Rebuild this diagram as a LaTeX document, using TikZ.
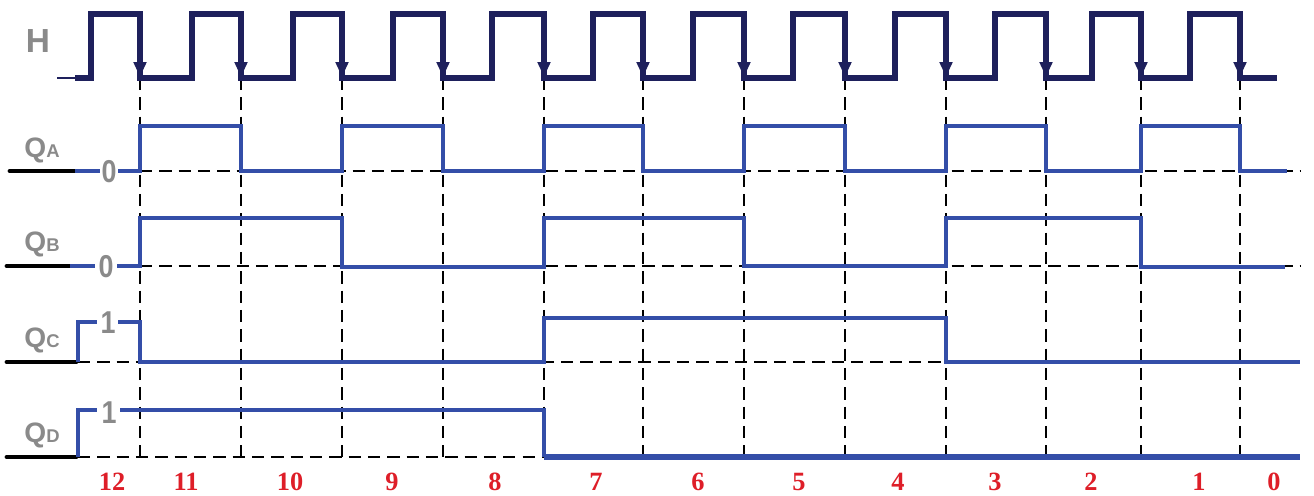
\documentclass[tikz,border=0pt]{standalone}
\usepackage{fontspec}
\setmainfont{Liberation Sans}
\newfontfamily\numfont{Liberation Serif}
\usepackage{tikz}
\usetikzlibrary{arrows.meta}
\definecolor{hnavy}{RGB}{30,32,92}
\definecolor{wblue}{RGB}{52,78,168}
\definecolor{lblgray}{RGB}{138,138,138}
\definecolor{numred}{RGB}{222,30,40}
\tikzset{
  clk/.style={hnavy,line width=2.9pt,line join=miter},
  wave/.style={wblue,line width=2.5pt,line join=miter},
  lead/.style={black,line width=2.7pt,line cap=round},
  grid/.style={black,line width=1pt,dash pattern=on 7pt off 4pt},
  siglbl/.style={lblgray,font=\bfseries\fontsize{16}{16}\selectfont,inner sep=0pt},
  lvl/.style={lblgray,font=\bfseries\fontsize{18}{18}\selectfont,inner sep=0pt,xscale=0.85},
  cnt/.style={numred,font=\numfont\bfseries\fontsize{15}{15}\selectfont,inner sep=0pt}
}
\newcommand{\sub}[1]{{\fontsize{10.5}{10.5}\selectfont #1}}
\begin{document}
\begin{tikzpicture}[x=0.02cm,y=-0.02cm,>=Latex]
\useasboundingbox (0,0) rectangle (1314,495);
% dashed guide lines
\foreach \t in {140,241,342,443,544,643,744,845,946,1046,1141,1240}
  \draw[grid] (\t,78) -- (\t,457);
\draw[grid] (140,171) -- (1300,171);
\draw[grid] (140,266) -- (1300,266);
\draw[grid] (78,362) -- (1300,362);
\draw[grid] (78,457) -- (544,457);
% clock H
\draw[hnavy,line width=1pt] (57,78) -- (78,78);
\draw[clk] (75,78) -- (91,78) -- (91,14) -- (140,14) -- (140,78) -- (192,78) -- (192,14) -- (241,14) -- (241,78) -- (293,78) -- (293,14) -- (342,14) -- (342,78) -- (393,78) -- (393,14) -- (443,14) -- (443,78) -- (492,78) -- (492,14) -- (544,14) -- (544,78) -- (593,78) -- (593,14) -- (643,14) -- (643,78) -- (693,78) -- (693,14) -- (744,14) -- (744,78) -- (793,78) -- (793,14) -- (845,14) -- (845,78) -- (895,78) -- (895,14) -- (946,14) -- (946,78) -- (995,78) -- (995,14) -- (1046,14) -- (1046,78) -- (1092,78) -- (1092,14) -- (1141,14) -- (1141,78) -- (1190,78) -- (1190,14) -- (1240,14) -- (1240,78) -- (1277,78);
\foreach \t in {140,241,342,443,544,643,744,845,946,1046,1141,1240}
  \draw[hnavy,line width=2.9pt,-{Triangle[length=8.5pt,width=7pt]}] (\t,40) -- (\t,77);
% QA
\draw[lead] (10,171) -- (77,171);
\draw[wave] (75,171) -- (100,171);
\draw[wave] (118,171) -- (140,171) -- (140,126) -- (241,126) -- (241,171) -- (342,171) -- (342,126) -- (443,126) -- (443,171) -- (544,171) -- (544,126) -- (643,126) -- (643,171) -- (744,171) -- (744,126) -- (845,126) -- (845,171) -- (946,171) -- (946,126) -- (1046,126) -- (1046,171) -- (1141,171) -- (1141,126) -- (1240,126) -- (1240,171) -- (1287,171);
% QB
\draw[lead] (7,266) -- (72,266);
\draw[wave] (70,266) -- (95,266);
\draw[wave] (117,266) -- (140,266) -- (140,218) -- (342,218) -- (342,267) -- (544,267) -- (544,218) -- (744,218) -- (744,266) -- (946,266) -- (946,218) -- (1141,218) -- (1141,267) -- (1285,267);
% QC
\draw[lead] (7,362) -- (76,362);
\draw[wave] (78,362) -- (78,322) -- (97,322);
\draw[wave] (118,322) -- (140,322) -- (140,362) -- (544,362) -- (544,318) -- (946,318) -- (946,362) -- (1300,362);
% QD
\draw[lead] (7,457) -- (76,457);
\draw[wave] (78,457) -- (78,410) -- (97,410);
\draw[wave] (120,410) -- (544,410) -- (544,457);
\draw[wave,line width=3.6pt] (544,457) -- (1300,457);
% labels
\node[lblgray,font=\bfseries\fontsize{19}{19}\selectfont,inner sep=0pt] (lblH) at (38,41) {H};
\node[siglbl] (lblQA) at (42,150) {Q\sub{A}};
\node[siglbl] (lblQB) at (42,244) {Q\sub{B}};
\node[siglbl] (lblQC) at (42,340) {Q\sub{C}};
\node[siglbl] (lblQD) at (42,435) {Q\sub{D}};
\node[lvl] (zeroA) at (109,172) {0};
\node[lvl] (zeroB) at (106,267) {0};
\node[lvl] (oneC) at (108,323) {1};
\node[lvl] (oneD) at (109,413) {1};
% counter values
\foreach \v/\x in {12/112,11/186,10/290,9/392,8/495,7/596,6/698,5/799,4/898,3/995,2/1091,1/1199,0/1274}
  \node[cnt] (n\v) at (\x,482) {\v};
\end{tikzpicture}
\end{document}
